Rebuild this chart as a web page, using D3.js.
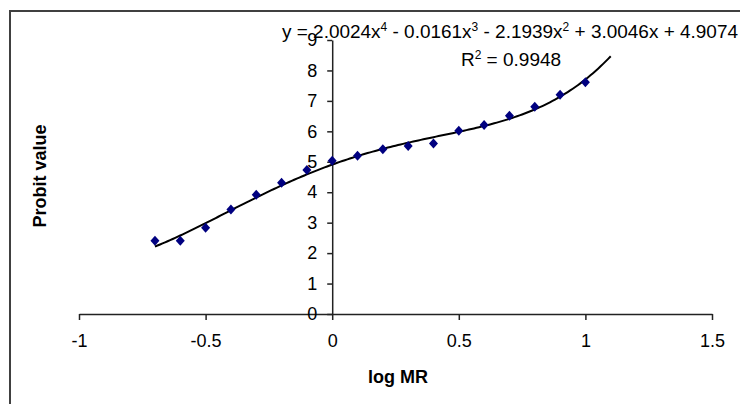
<!DOCTYPE html>
<meta charset="utf-8">
<style>
body { margin: 0; background: #fff; }
text { font-family: "Liberation Sans", Arial, sans-serif; fill: #000; }
.axis text { font-size: 18px; }
.title { font-size: 18px; font-weight: bold; }
</style>
<svg width="740" height="404"></svg>
<script src="https://d3js.org/d3.v7.min.js"></script>
<script>

// data
var logMR  = [-0.7, -0.6, -0.5, -0.4, -0.3, -0.2, -0.1, 0, 0.1, 0.2, 0.3, 0.4, 0.5, 0.6, 0.7, 0.8, 0.9, 1.0];
var probit = [2.41, 2.41, 2.83, 3.43, 3.92, 4.31, 4.73, 5.03, 5.2, 5.41, 5.52, 5.6, 6.02, 6.21, 6.51, 6.81, 7.2, 7.61];

var xTicks = [-1, -0.5, 0, 0.5, 1, 1.5];
var yTicks = [0, 1, 2, 3, 4, 5, 6, 7, 8, 9];

// trendline y = a4 x^4 + a3 x^3 + a2 x^2 + a1 x + a0 (as printed on chart)
var coef = [4.9074, 3.0046, -2.1939, -0.0161, 2.0024];
var trendRange = [-0.7, 1.1];

var svg = d3.select("svg");

// outer frame (cut off on right and bottom)
svg.append("path")
  .attr("d", "M10,404 V11 H740")
  .attr("fill", "none")
  .attr("stroke", "#404040")
  .attr("stroke-width", 2);

var x = d3.scaleLinear().domain([-1, 1.5]).range([79, 712]);
var y = d3.scaleLinear().domain([0, 9]).range([314, 40]);

// plain hyphen for negatives, like the original
var fmt = function(d) { return String(d); };

// x axis
svg.append("g")
  .attr("class", "axis")
  .attr("transform", "translate(0," + y(0) + ")")
  .call(d3.axisBottom(x).tickValues(xTicks).tickSizeInner(6).tickSizeOuter(0).tickPadding(14).tickFormat(fmt));

// y axis
svg.append("g")
  .attr("class", "axis")
  .attr("transform", "translate(" + x(0) + ",0)")
  .call(d3.axisLeft(y).tickValues(yTicks).tickSizeInner(5).tickSizeOuter(0).tickPadding(10).tickFormat(fmt));

svg.selectAll(".axis path, .axis line").attr("stroke", "#222").attr("stroke-width", 1.5);
svg.selectAll(".axis text").attr("fill", "#000");

// trendline
function poly(v) {
  var s = 0;
  for (var k = coef.length - 1; k >= 0; k--) s = s * v + coef[k];
  return s;
}
var tx = d3.range(trendRange[0], trendRange[1] + 0.0001, 0.01);
svg.append("path")
  .datum(tx)
  .attr("fill", "none")
  .attr("stroke", "#000")
  .attr("stroke-width", 2)
  .attr("d", d3.line().x(function(d) { return x(d); }).y(function(d) { return y(poly(d)); }));

// markers
svg.selectAll(".pt")
  .data(logMR)
  .enter().append("path")
  .attr("class", "pt")
  .attr("transform", function(d, i) { return "translate(" + x(d) + "," + y(probit[i]) + ")"; })
  .attr("d", "M0,-5L4.5,0L0,5L-4.5,0Z")
  .attr("fill", "#000080");

// equation
var eqSize = 19;
var eq = svg.append("text")
  .attr("x", 738)
  .attr("y", 38)
  .attr("text-anchor", "end")
  .style("font-size", eqSize + "px");
function sup(t, s) {
  t.append("tspan").attr("dy", -7).style("font-size", "12px").text(s);
}
eq.append("tspan").text("y = 2.0024x");
sup(eq, "4");
eq.append("tspan").attr("dy", 7).text(" - 0.0161x");
sup(eq, "3");
eq.append("tspan").attr("dy", 7).text(" - 2.1939x");
sup(eq, "2");
eq.append("tspan").attr("dy", 7).text(" + 3.0046x + 4.9074");

// fit the equation to the span it takes in the original (x 282..738)
var w = eq.node().getComputedTextLength();
eq.attr("textLength", 456).attr("lengthAdjust", "spacingAndGlyphs");

var r2 = svg.append("text")
  .attr("x", 511)
  .attr("y", 66)
  .attr("text-anchor", "middle")
  .style("font-size", eqSize + "px");
r2.append("tspan").text("R");
sup(r2, "2");
r2.append("tspan").attr("dy", 7).text(" = 0.9948");

// axis titles
svg.append("text")
  .attr("class", "title")
  .attr("x", 398)
  .attr("y", 383)
  .attr("text-anchor", "middle")
  .text("log MR");

svg.append("text")
  .attr("class", "title")
  .attr("transform", "translate(46,176) rotate(-90)")
  .attr("text-anchor", "middle")
  .text("Probit value");

</script>
